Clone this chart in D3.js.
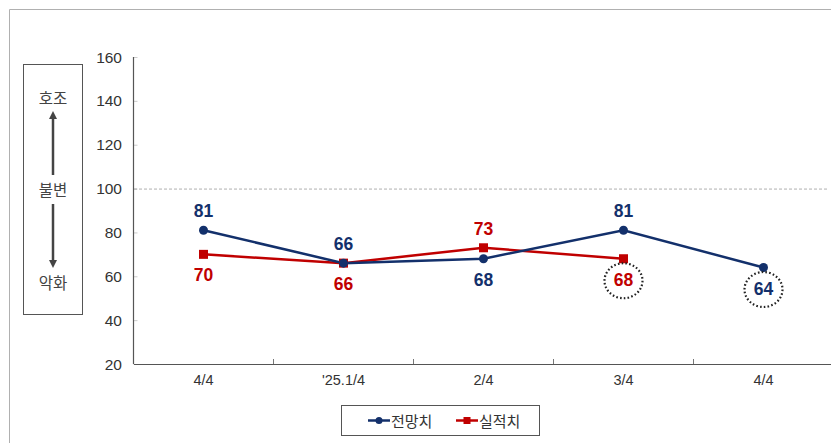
<!DOCTYPE html>
<html><head><meta charset="utf-8">
<script src="https://cdn.jsdelivr.net/npm/d3@7"></script>
<style>body{margin:0;background:#fff}svg{display:block}</style>
</head><body>
<script>
const categories = ["4/4", "'25.1/4", "2/4", "3/4", "4/4 "];
const forecast = [81, 66, 68, 81, 64];   // 전망치
const actual = [70, 66, 73, 68];          // 실적치
const yTicks = [20, 40, 60, 80, 100, 120, 140, 160];
const seriesNames = ["전망치", "실적치"];
const forecastLabelPos = ["above", "above", "below", "above", "below"];
const actualLabelPos = ["below", "below", "above", "below"];
const circled = { forecast: [4], actual: [3] };

const W = 831, H = 443;
const navy = "#13306b", red = "#c00000";
const numFont = "'Liberation Sans', Arial, sans-serif";
const krFont = "'Noto Sans CJK KR', sans-serif";

const svg = d3.select("body").append("svg").attr("width", W).attr("height", H);

// outer frame
svg.append("path").attr("d", `M9.5,${H} L9.5,9.5 L${W},9.5`).attr("fill", "none").attr("stroke", "#b0b0b0").attr("stroke-width", 1);

const x = d3.scaleBand().domain(categories).range([133.5, 833.5]);
const y = d3.scaleLinear().domain([20, 160]).range([364, 57]);

// left legend box
const lb = svg.append("g");
lb.append("rect").attr("x", 23.5).attr("y", 64.5).attr("width", 59).attr("height", 250).attr("fill", "none").attr("stroke", "#555").attr("stroke-width", 1);
const lx = 53;
[["호조", 97], ["불변", 189], ["악화", 282]].forEach(([t, yy]) => {
  lb.append("text").attr("x", lx).attr("y", yy).attr("text-anchor", "middle").attr("dominant-baseline", "central")
    .attr("font-family", krFont).attr("font-size", 15.5).attr("fill", "#444").text(t);
});
svg.append("defs").append("marker").attr("id", "arr").attr("viewBox", "0 0 10 10").attr("refX", 5).attr("refY", 5)
  .attr("markerWidth", 3.2).attr("markerHeight", 3.2).attr("orient", "auto-start-reverse")
  .append("path").attr("d", "M0,0 L10,5 L0,10 z").attr("fill", "#444");
lb.append("line").attr("x1", lx).attr("x2", lx).attr("y1", 175).attr("y2", 115).attr("stroke", "#444").attr("stroke-width", 2.5).attr("marker-end", "url(#arr)");
lb.append("line").attr("x1", lx).attr("x2", lx).attr("y1", 204).attr("y2", 264).attr("stroke", "#444").attr("stroke-width", 2.5).attr("marker-end", "url(#arr)");

// y axis
const yAxis = svg.append("g").attr("transform", "translate(133.5,0)")
  .call(d3.axisRight(y).tickValues(yTicks).tickSize(4).tickFormat(""));
yAxis.select(".domain").remove();
yAxis.selectAll(".tick line").attr("stroke", "#ccc");
svg.append("line").attr("x1", 133.5).attr("x2", 133.5).attr("y1", y(160)).attr("y2", y(20)).attr("stroke", "#555").attr("stroke-width", 1.2);
svg.append("g").selectAll("text").data(yTicks).join("text")
  .attr("x", 122).attr("y", d => y(d)).attr("text-anchor", "end").attr("dominant-baseline", "central")
  .attr("font-family", numFont).attr("font-size", 15.5).attr("fill", "#333").text(d => d);

// reference line at 100
svg.append("line").attr("x1", 134).attr("x2", 829).attr("y1", y(100) + 0.5).attr("y2", y(100) + 0.5)
  .attr("stroke", "#999").attr("stroke-width", 0.8).attr("stroke-dasharray", "3,2");

// x axis
const xAxis = svg.append("g").attr("transform", `translate(0,${y(20)})`)
  .call(d3.axisBottom(x).tickSize(0).tickFormat(""));
xAxis.select(".domain").attr("stroke", "#555").attr("stroke-width", 1.2);
svg.append("g").selectAll("line").data(categories.slice(1)).join("line")
  .attr("x1", d => x(d)).attr("x2", d => x(d)).attr("y1", y(20)).attr("y2", y(20) - 5).attr("stroke", "#777");
svg.append("g").selectAll("text").data(categories).join("text")
  .attr("x", d => x(d) + x.bandwidth() / 2).attr("y", 380).attr("text-anchor", "middle").attr("dominant-baseline", "central")
  .attr("font-family", numFont).attr("font-size", 14.5).attr("fill", "#333").text(d => d.trim());

const cx = (i) => x(categories[i]) + x.bandwidth() / 2;
const line = d3.line().x((d, i) => cx(i)).y(d => y(d));

// series
svg.append("path").datum(actual).attr("d", line).attr("fill", "none").attr("stroke", red).attr("stroke-width", 2.5);
svg.append("path").datum(forecast).attr("d", line).attr("fill", "none").attr("stroke", navy).attr("stroke-width", 2.5);
svg.append("g").selectAll("rect").data(actual).join("rect")
  .attr("x", (d, i) => cx(i) - 4.5).attr("y", d => y(d) - 4.5).attr("width", 9).attr("height", 9).attr("fill", red);
svg.append("g").selectAll("circle").data(forecast).join("circle")
  .attr("cx", (d, i) => cx(i)).attr("cy", d => y(d)).attr("r", 4.5).attr("fill", navy);

// data labels
function labels(data, pos, color, circ) {
  data.forEach((d, i) => {
    const ly = pos[i] === "above" ? y(d) - 19 : y(d) + 21;
    if (circ.includes(i)) {
      svg.append("ellipse").attr("cx", cx(i)).attr("cy", ly + 1).attr("rx", 19).attr("ry", 17.5)
        .attr("fill", "none").attr("stroke", "#222").attr("stroke-width", 2.2).attr("stroke-dasharray", "1.6,2.2");
    }
    svg.append("text").attr("x", cx(i)).attr("y", ly).attr("text-anchor", "middle").attr("dominant-baseline", "central")
      .attr("font-family", numFont).attr("font-weight", "bold").attr("font-size", 17.5).attr("fill", color).text(d);
  });
}
labels(forecast, forecastLabelPos, navy, circled.forecast);
labels(actual, actualLabelPos, red, circled.actual);

// legend
const lg = svg.append("g");
lg.append("rect").attr("x", 341.5).attr("y", 405.5).attr("width", 198).attr("height", 30).attr("fill", "#fff").attr("stroke", "#555");
const items = [[navy, "circle"], [red, "rect"]];
items.forEach(([c, shape], k) => {
  const x0 = 368 + k * 88, yy = 420.5;
  lg.append("line").attr("x1", x0).attr("x2", x0 + 22).attr("y1", yy).attr("y2", yy).attr("stroke", c).attr("stroke-width", 2.5);
  if (shape === "circle") lg.append("circle").attr("cx", x0 + 11).attr("cy", yy).attr("r", 3.5).attr("fill", c);
  else lg.append("rect").attr("x", x0 + 7.5).attr("y", yy - 3.5).attr("width", 7).attr("height", 7).attr("fill", c);
  lg.append("text").attr("x", x0 + 23).attr("y", yy).attr("dominant-baseline", "central")
    .attr("font-family", krFont).attr("font-size", 15).attr("fill", "#333").text(seriesNames[k]);
});
</script>
</body></html>
